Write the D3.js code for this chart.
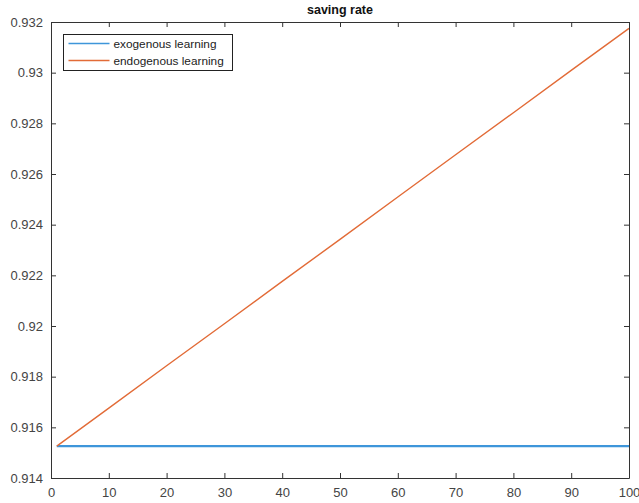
<!DOCTYPE html>
<html>
<head>
<meta charset="utf-8">
<script src="https://d3js.org/d3.v7.min.js"></script>
<style>
  html, body { margin: 0; padding: 0; background: #fff; }
  svg { display: block; }
</style>
</head>
<body>
<script>
// Saving rate path over time under two learning assumptions
const periods = [1, 10, 20, 30, 40, 50, 60, 70, 80, 90, 100];
const exogenous = [0.91526, 0.91526, 0.91526, 0.91526, 0.91526, 0.91526, 0.91526, 0.91526, 0.91526, 0.91526, 0.91526];
const endogenous = [0.91526, 0.91676, 0.91843, 0.92009, 0.92176, 0.92342, 0.92509, 0.92676, 0.92842, 0.93009, 0.93175];
const seriesNames = ["exogenous learning", "endogenous learning"];
const seriesColors = ["#3E96DA", "#E26B37"];
const xTicks = [0, 10, 20, 30, 40, 50, 60, 70, 80, 90, 100];
const yTicks = [0.914, 0.916, 0.918, 0.92, 0.922, 0.924, 0.926, 0.928, 0.93, 0.932];
const chartTitle = "saving rate";

const W = 639, H = 503;
const margin = { left: 51, right: 10, top: 22, bottom: 25 };
const innerW = W - margin.left - margin.right;
const innerH = H - margin.top - margin.bottom;

const svg = d3.select("body").append("svg").attr("width", W).attr("height", H);
const g = svg.append("g").attr("transform", `translate(${margin.left},${margin.top})`);

const x = d3.scaleLinear().domain([0, 100]).range([0, innerW]);
const y = d3.scaleLinear().domain([0.914, 0.932]).range([innerH, 0]);

const axisColor = "#333333";
const labelColor = "#444444";
const font = "Helvetica, 'Liberation Sans', Arial, sans-serif";
const fmt = d => String(+d.toFixed(3));

// Lines
const data = [exogenous, endogenous];
const line = d3.line().x((d, i) => x(periods[i])).y(d => y(d));
data.forEach((vals, k) => {
  g.append("path")
    .datum(vals)
    .attr("fill", "none")
    .attr("stroke", seriesColors[k])
    .attr("stroke-width", k === 0 ? 2.2 : 1.4)
    .attr("d", line);
});

// Axes (box with inward ticks on all sides)
function styleAxis(sel) {
  sel.select(".domain").attr("stroke", axisColor).attr("stroke-width", 1);
  sel.selectAll(".tick line").attr("stroke", axisColor);
  sel.selectAll("text").attr("fill", labelColor).style("font-family", font).style("font-size", "13px");
}
const xb = g.append("g").attr("transform", `translate(0,${innerH})`)
  .call(d3.axisBottom(x).tickValues(xTicks).tickSizeInner(-5).tickSizeOuter(0).tickPadding(10).tickFormat(d3.format("d")));
styleAxis(xb);
const xt = g.append("g")
  .call(d3.axisTop(x).tickValues(xTicks).tickSizeInner(-5).tickSizeOuter(0).tickFormat(""));
styleAxis(xt);
const yl = g.append("g")
  .call(d3.axisLeft(y).tickValues(yTicks).tickSizeInner(-5).tickSizeOuter(0).tickPadding(8).tickFormat(fmt));
styleAxis(yl);
const yr = g.append("g").attr("transform", `translate(${innerW},0)`)
  .call(d3.axisRight(y).tickValues(yTicks).tickSizeInner(-5).tickSizeOuter(0).tickFormat(""));
styleAxis(yr);

// Title
svg.append("text")
  .attr("x", margin.left + innerW / 2)
  .attr("y", 14)
  .attr("text-anchor", "middle")
  .style("font-family", font)
  .style("font-size", "12.5px")
  .style("font-weight", "bold")
  .attr("fill", "#111")
  .text(chartTitle);

// Legend
const lg = svg.append("g").attr("transform", "translate(63.5,34.5)");
lg.append("rect").attr("width", 169).attr("height", 36)
  .attr("fill", "#fff").attr("stroke", "#222").attr("stroke-width", 1);
seriesNames.forEach((name, k) => {
  const yy = 9 + k * 17;
  lg.append("line").attr("x1", 5).attr("x2", 46).attr("y1", yy).attr("y2", yy)
    .attr("stroke", seriesColors[k]).attr("stroke-width", 1.4);
  lg.append("text").attr("x", 50).attr("y", yy + 4)
    .style("font-family", font).style("font-size", "11.8px")
    .attr("fill", "#222").text(name);
});
</script>
</body>
</html>
